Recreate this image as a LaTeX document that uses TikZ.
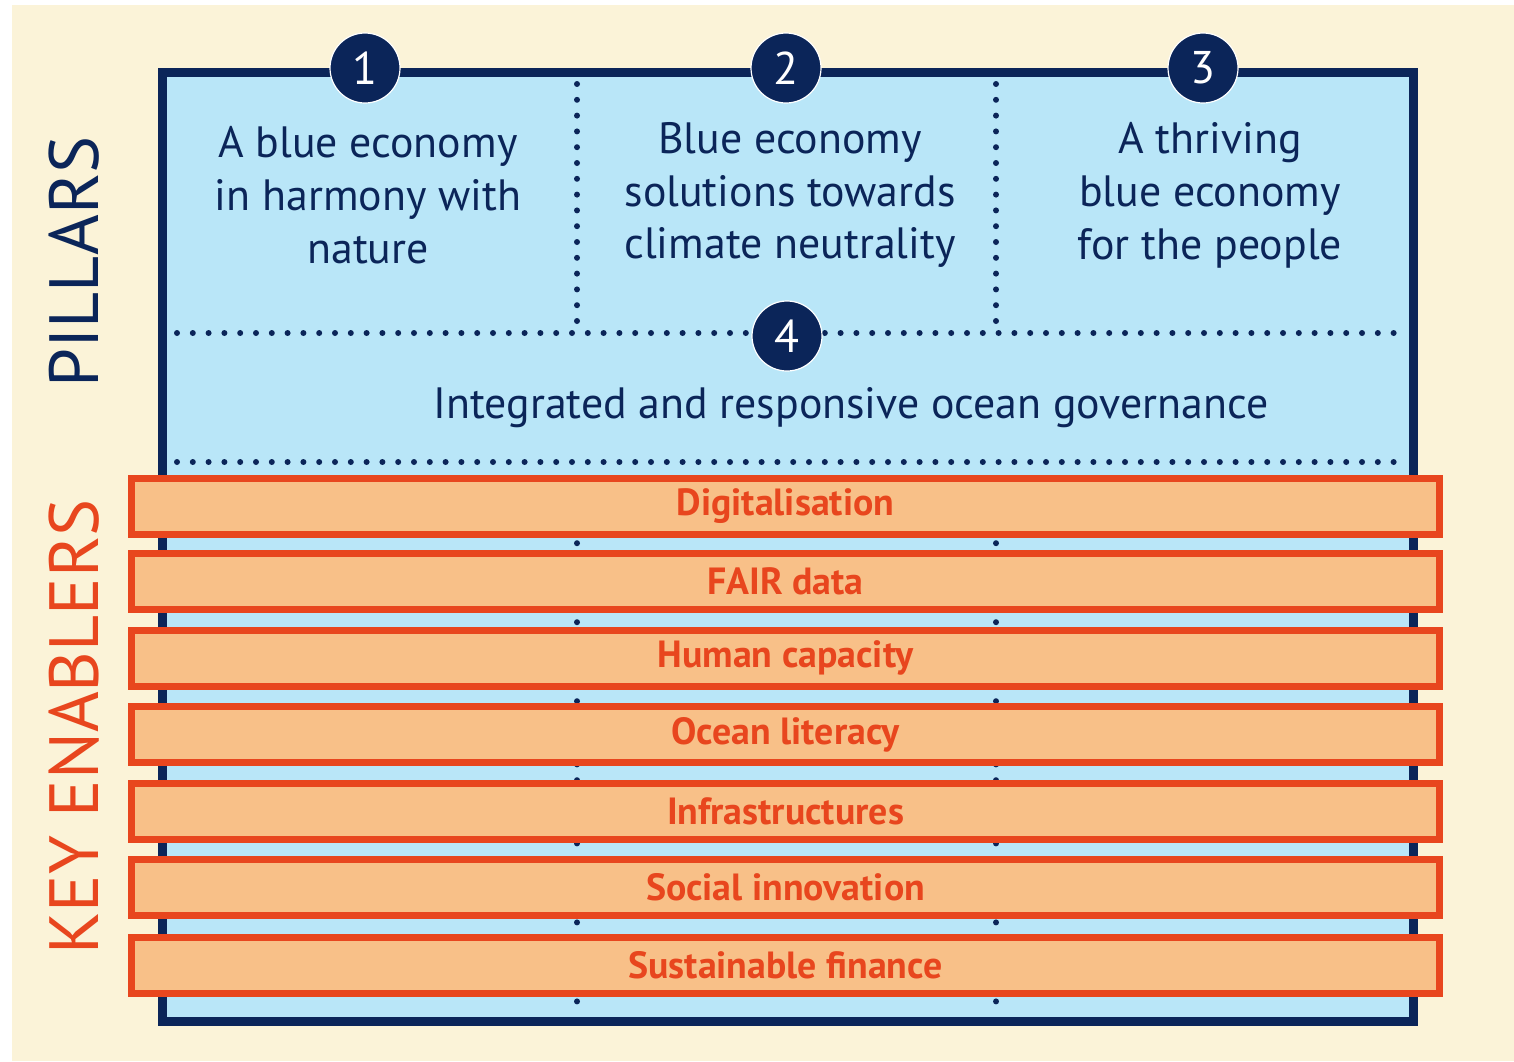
\documentclass[tikz,border=0pt]{standalone}
\usepackage{fontspec}
\setmainfont{PT Sans}
\definecolor{cream}{HTML}{FBF3D8}
\definecolor{lblue}{HTML}{B9E6F8}
\definecolor{navy}{HTML}{0B2559}
\definecolor{oborder}{HTML}{E8461E}
\definecolor{ofill}{HTML}{F8C088}
\begin{document}
\begin{tikzpicture}[x=1bp,y=-1bp,
  numcirc/.style={circle,fill=navy,draw=white,line width=1.2bp,minimum size=70bp,inner sep=0pt,text=white,font=\fontsize{46}{46}\selectfont},
  pillartext/.style={text=navy,align=center,font=\fontsize{44}{53}\selectfont},
  dotline/.style={navy,line width=6bp,line cap=round,dash pattern=on 0bp off 15.8bp},
  enabler/.style={draw=oborder,fill=ofill,line width=7bp,minimum width=1308bp,minimum height=56bp,inner sep=0pt,text=oborder,font=\bfseries\fontsize{38}{38}\selectfont},
  sidelabel/.style={rotate=90,font=\fontsize{70}{70}\selectfont}
]
\useasboundingbox (0,0) rectangle (1514,1061);
\fill[cream] (12,5) rectangle (1514,1061);
% main box
\fill[lblue] (162.5,72.5) rectangle (1413.5,1021.5);
% dotted lines
\coordinate (v1t) at (577,84);
\coordinate (v1m) at (577,326);
\coordinate (v1n) at (577,480);
\coordinate (v1b) at (577,1014);
\coordinate (v2t) at (996,84);
\coordinate (v2m) at (996,326);
\coordinate (v2n) at (996,480);
\coordinate (v2b) at (996,1014);
\coordinate (h1l) at (177,333);
\coordinate (h1r) at (1406,333);
\coordinate (h2l) at (177,462);
\coordinate (h2r) at (1406,462);
\draw[dotline] (v1t) -- (v1m);
\draw[dotline] (v2t) -- (v2m);
\draw[dotline] (v1n) -- (v1b);
\draw[dotline] (v2n) -- (v2b);
\draw[dotline] (h1l) -- (h1r);
\draw[dotline] (h2l) -- (h2r);
\draw[navy,line width=9bp] (162.5,72.5) rectangle (1413.5,1021.5);
% numbers
\node[numcirc] (n1) at (365,68) {1};
\node[numcirc] (n2) at (786,68) {2};
\node[numcirc] (n3) at (1203,68) {3};
\node[numcirc] (n4) at (787,336) {4};
% pillar texts
\node[pillartext] (p1) at (368,195) {A blue economy\\in harmony with\\nature};
\node[pillartext] (p2) at (790,195) {Blue economy\\solutions towards\\climate neutrality};
\node[pillartext] (p3) at (1210,195) {A thriving\\blue economy\\for the people};
\node[pillartext] (p4) at (851,408) {Integrated and responsive ocean governance};
% enablers
\node[enabler] (e1) at (785.5,506) {\raisebox{-3bp}{Digitalisation}};
\node[enabler] (e2) at (785.5,581) {\raisebox{-3bp}{FAIR data}};
\node[enabler] (e3) at (785.5,658) {\raisebox{-3bp}{Human capacity}};
\node[enabler] (e4) at (785.5,734.5) {\raisebox{-3bp}{Ocean literacy}};
\node[enabler] (e5) at (785.5,811) {\raisebox{-3bp}{Infrastructures}};
\node[enabler] (e6) at (785.5,887.5) {\raisebox{-3bp}{Social innovation}};
\node[enabler] (e7) at (785.5,965) {\raisebox{-3bp}{Sustainable finance}};
% side labels
\node[sidelabel,text=navy] (pl) at (74,262) {PILLARS};
\node[sidelabel,text=oborder] (ke) at (74,727) {KEY ENABLERS};
\end{tikzpicture}
\end{document}
